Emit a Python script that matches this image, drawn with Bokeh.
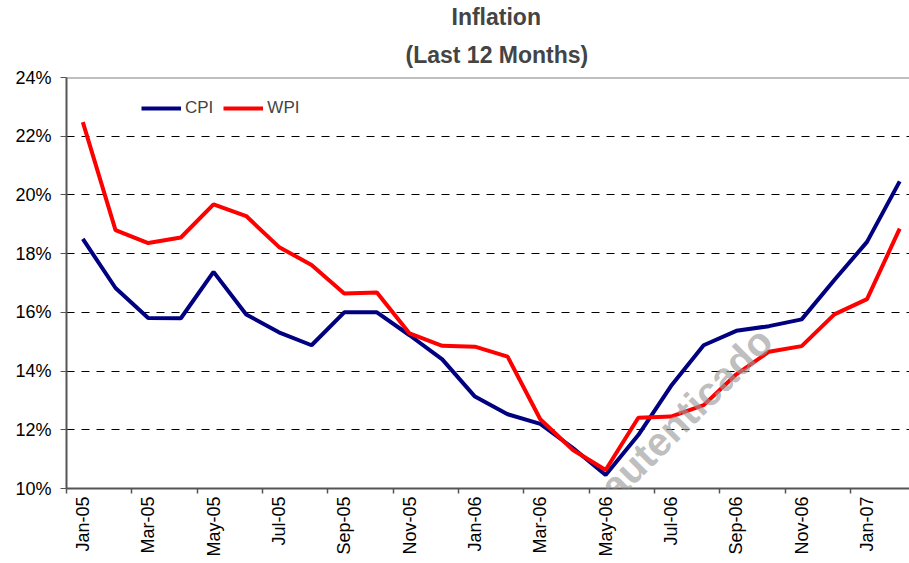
import math
from bokeh.plotting import figure
from bokeh.models import (Title, Label, Span, FixedTicker, Legend, LegendItem,
                          Range1d, PrintfTickFormatter)
from bokeh.embed import file_html
from bokeh.resources import INLINE

months = ["Jan-05", "Feb-05", "Mar-05", "Apr-05", "May-05", "Jun-05", "Jul-05",
          "Aug-05", "Sep-05", "Oct-05", "Nov-05", "Dec-05", "Jan-06", "Feb-06",
          "Mar-06", "Apr-06", "May-06", "Jun-06", "Jul-06", "Aug-06", "Sep-06",
          "Oct-06", "Nov-06", "Dec-06", "Jan-07", "Feb-07"]
cpi = [18.50, 16.83, 15.81, 15.80, 17.38, 15.93, 15.32, 14.88, 16.00, 16.00,
       15.22, 14.40, 13.13, 12.53, 12.20, 11.38, 10.46, 11.82, 13.49, 14.88,
       15.37, 15.53, 15.76, 17.10, 18.40, 20.46]
wpi = [22.48, 18.80, 18.36, 18.55, 19.68, 19.28, 18.23, 17.61, 16.64, 16.68,
       15.28, 14.86, 14.83, 14.49, 12.36, 11.31, 10.63, 12.41, 12.45, 12.84,
       13.89, 14.66, 14.85, 15.93, 16.45, 18.85]
y_ticks = [10, 12, 14, 16, 18, 20, 22, 24]

FONT = "Liberation Sans"
xs = list(range(len(months)))

p = figure(width=909, height=563, output_backend="svg", toolbar_location=None,
           x_range=Range1d(-0.5, 25.3), y_range=Range1d(10, 24),
           min_border_left=66, min_border_right=0, min_border_top=77,
           min_border_bottom=75, outline_line_color=None)
p.title = None

p.add_layout(Title(text="(Last 12 Months)", align="left", text_font=FONT,
                   text_font_size="23px", text_font_style="bold", standoff=20,
                   offset=339), "above")
p.add_layout(Title(text="Inflation", align="left", text_font=FONT,
                   text_font_size="23px", text_font_style="bold", standoff=0,
                   offset=385), "above")

r_cpi = p.line(xs, cpi, line_color="#000080", line_width=4)
r_wpi = p.line(xs, wpi, line_color="#FF0000", line_width=4)

# watermark
p.add_layout(Label(x=20.89, y=15.26, text="Documento no autenticado",
                   angle=math.pi / 4, text_align="right", text_baseline="middle",
                   text_font=FONT, text_font_size="40px", text_font_style="bold",
                   text_color="#9a9a9a", text_alpha=0.65))

p.add_layout(Span(location=24, dimension="width", line_color="#808080",
                  line_width=2))

p.xgrid.visible = False
p.ygrid.ticker = FixedTicker(ticks=y_ticks[1:-1])
p.ygrid.grid_line_color = "black"
p.ygrid.grid_line_dash = "8 7"
p.ygrid.grid_line_width = 1

p.yaxis.ticker = FixedTicker(ticks=y_ticks)
p.yaxis.formatter = PrintfTickFormatter(format="%d%%")
p.yaxis.major_tick_out = 6
p.yaxis.major_tick_in = 0
p.yaxis.minor_tick_line_color = None
p.yaxis.major_label_standoff = 9
p.yaxis.major_label_text_font = FONT
p.yaxis.major_label_text_font_size = "18px"
p.yaxis.major_label_text_color = "black"
p.yaxis.axis_line_color = "#555555"
p.yaxis.axis_line_width = 2
p.yaxis.major_tick_line_color = "#555555"

label_idx = list(range(0, len(months), 2))
p.xaxis.ticker = FixedTicker(ticks=label_idx,
                             minor_ticks=[i - 0.5 for i in label_idx])
p.xaxis.major_label_overrides = {i: months[i] for i in label_idx}
p.xaxis.major_tick_out = 0
p.xaxis.major_tick_in = 0
p.xaxis.minor_tick_out = 5
p.xaxis.minor_tick_in = 0
p.xaxis.minor_tick_line_color = "#555555"
p.xaxis.minor_tick_line_width = 1.5
p.xaxis.major_label_orientation = math.pi / 2
p.xaxis.major_label_standoff = 3
p.xaxis.major_label_text_font = FONT
p.xaxis.major_label_text_font_size = "18px"
p.xaxis.major_label_text_color = "black"
p.xaxis.axis_line_color = "#555555"
p.xaxis.axis_line_width = 2

legend = Legend(items=[LegendItem(label="CPI", renderers=[r_cpi]),
                       LegendItem(label="WPI", renderers=[r_wpi])],
                orientation="horizontal", location=(75, 370),
                glyph_width=40, glyph_height=20, label_height=20,
                label_standoff=4, spacing=10, padding=0, margin=0,
                border_line_color=None, background_fill_alpha=0,
                label_text_font=FONT, label_text_font_size="17px")
p.add_layout(legend)

open("out.html", "w").write(file_html(p, INLINE))
